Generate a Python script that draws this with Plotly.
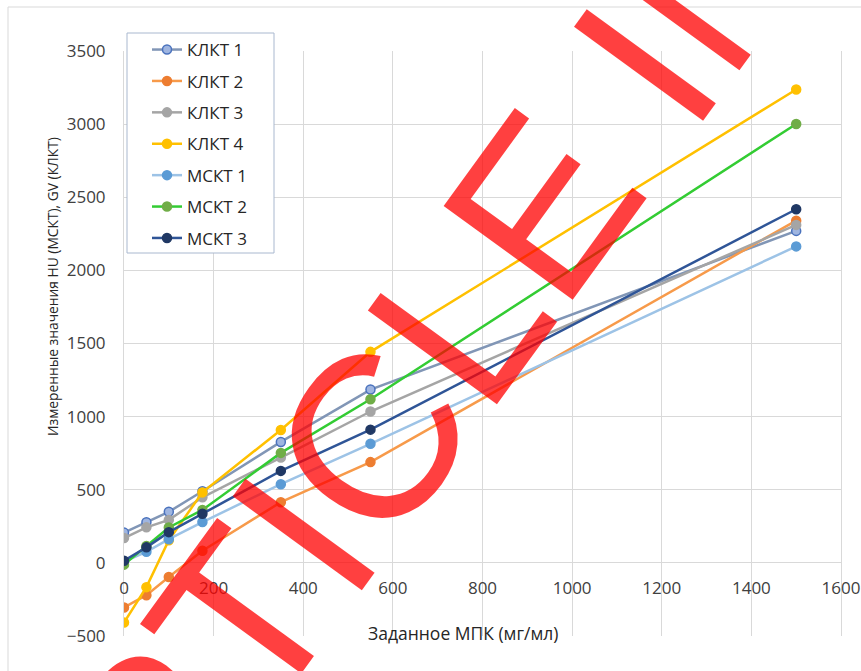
import plotly.graph_objects as go

# Concentration levels (мг/мл)
x_vals = [0, 50, 100, 175, 350, 550, 1500]

# Measured values per scanner
klkt1 = [207, 278, 349, 490, 827, 1185, 2270]
klkt2 = [-305, -221, -96, 83, 415, 689, 2340]
klkt3 = [170, 243, 294, 448, 720, 1035, 2311]
klkt4 = [-408, -166, 155, 482, 909, 1443, 3237]
mskt1 = [8, 76, 162, 279, 538, 814, 2164]
mskt2 = [-12, 115, 242, 362, 752, 1119, 3001]
mskt3 = [15, 106, 210, 336, 629, 911, 2418]

series_names = ["КЛКТ 1", "КЛКТ 2", "КЛКТ 3", "КЛКТ 4", "МСКТ 1", "МСКТ 2", "МСКТ 3"]
series_values = [klkt1, klkt2, klkt3, klkt4, mskt1, mskt2, mskt3]
line_colors = ["#8196B6", "#F79A4A", "#A5A5A5", "#FFC000", "#9DC3E6", "#33CC33", "#2F5597"]
marker_colors = ["#9FB5E0", "#ED7D31", "#A5A5A5", "#FFC000", "#5B9BD5", "#70AD47", "#203864"]
marker_edges = ["#4A72BD", "#ED7D31", "#A5A5A5", "#FFC000", "#5B9BD5", "#70AD47", "#203864"]

FONT = "Open Sans"
TEXT = "#404040"
GRID = "#D9D9D9"

# plot area in pixels
L, R, T, B = 124, 841, 51, 636
PW, PH = R - L, B - T


def px(x):
    return (x - L) / PW


def py(y):
    return (B - y) / PH


fig = go.Figure()
for name, vals, lc, mc, me in zip(series_names, series_values, line_colors, marker_colors, marker_edges):
    fig.add_trace(go.Scatter(
        x=x_vals, y=vals, name=name, mode="lines+markers",
        legendgroup=name,
        line=dict(color=lc, width=2.5),
        marker=dict(color=mc, size=9, line=dict(color=me, width=1.5)),
    ))

fig.update_layout(
    width=861, height=671,
    margin=dict(l=L, r=861 - R, t=T, b=671 - B),
    paper_bgcolor="white", plot_bgcolor="white",
    font=dict(family=FONT, size=17, color=TEXT),
    showlegend=True,
    legend=dict(
        x=px(127), y=py(32), xanchor="left", yanchor="top",
        bgcolor="rgba(0,0,0,0)", borderwidth=0,
        font=dict(family=FONT, size=17, color="#262626"),
        traceorder="grouped", tracegroupgap=6.3,
        indentation=20,
    ),
    xaxis=dict(
        range=[0, 1600], tickmode="array", tickvals=list(range(0, 1601, 200)),
        showgrid=True, gridcolor=GRID, gridwidth=1,
        zeroline=False, showline=False, automargin=False,
        anchor="free", position=0.125,
        ticks="outside", ticklen=10, tickcolor="rgba(0,0,0,0)",
        tickfont=dict(family=FONT, size=17, color=TEXT),
    ),
    yaxis=dict(
        range=[-500, 3500], tickmode="array", tickvals=list(range(-500, 3501, 500)),
        showgrid=True, gridcolor=GRID, gridwidth=1,
        zeroline=True, zerolinecolor=GRID, zerolinewidth=1,
        showline=True, mirror=True, linecolor=GRID, linewidth=1,
        automargin=False,
        ticks="outside", ticklen=14, tickcolor="rgba(0,0,0,0)",
        tickfont=dict(family=FONT, size=17, color=TEXT),
    ),
)

# Legend frame with white backing
fig.add_shape(
    type="rect", xref="paper", yref="paper",
    x0=px(127), x1=px(274), y0=py(253), y1=py(33),
    line=dict(color="#A9B8CF", width=1), fillcolor="white", layer="above",
)

# Axis titles
fig.add_annotation(
    text="Заданное МПК (мг/мл)", xref="paper", yref="paper",
    x=px(463), y=py(633), xanchor="center", yanchor="middle",
    showarrow=False, font=dict(family=FONT, size=17.5, color="#262626"),
)
fig.add_annotation(
    text="Измеренные значения HU (МСКТ), GV (КЛКТ)", xref="paper", yref="paper",
    x=px(52), y=py(287), xanchor="center", yanchor="middle",
    textangle=-90, showarrow=False, font=dict(family=FONT, size=13.8, color="#262626"),
)

# Outer chart frame
fig.add_shape(
    type="rect", xref="paper", yref="paper",
    x0=px(8), x1=1.2, y0=-0.2, y1=py(7),
    line=dict(color=GRID, width=1), fillcolor="rgba(0,0,0,0)", layer="below",
)

# Diagonal stamp across the chart
fig.add_annotation(
    text="ARTICLE IN PRESS", xref="paper", yref="paper",
    x=px(638), y=py(74), xanchor="center", yanchor="middle",
    textangle=-54, showarrow=False,
    font=dict(family="Liberation Sans", size=232, color="rgba(255,0,0,0.75)"),
)

fig.write_html("out.html")
